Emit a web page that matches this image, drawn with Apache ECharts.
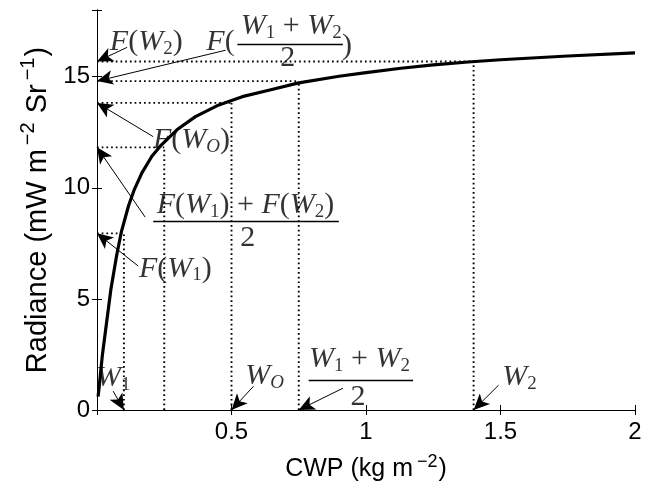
<!DOCTYPE html>
<html>
<head>
<meta charset="utf-8">
<script src="https://cdn.jsdelivr.net/npm/echarts@6/dist/echarts.min.js"></script>
<style>
  html, body { margin: 0; padding: 0; background: #fff; }
  #chart { width: 651px; height: 487px; }
</style>
</head>
<body>
<div id="chart"></div>
<script>
// radiance curve
const cwp = [0.004, 0.0075, 0.02, 0.036, 0.052, 0.073, 0.09, 0.117, 0.139, 0.167, 0.204, 0.235, 0.297, 0.366, 0.453, 0.54, 0.65, 0.75, 0.9, 1.0, 1.13, 1.25, 1.38, 1.5, 1.75, 2.0];
const radiance = [0.6, 0.98, 2.47, 3.97, 5.46, 6.95, 7.99, 9.18, 9.93, 10.67, 11.42, 11.87, 12.61, 13.2, 13.73, 14.1, 14.42, 14.72, 15.02, 15.18, 15.38, 15.53, 15.66, 15.76, 15.93, 16.07];

// W1, inverse of (F(W1)+F(W2))/2, WO, (W1+W2)/2, W2 and their F values
const wMarks = [0.1, 0.25, 0.5, 0.75, 1.4];
const fMarks = [7.95, 11.82, 13.82, 14.8, 15.68];

const yTicks = [0, 5, 10, 15];

// annotation arrows: [fromX, fromY, toX, toY]
const arrows = [
    [0.112, 16.32, 0.0, 15.68],
    [0.478, 16.19, 0.0, 14.8],
    [0.209, 12.30, 0.0, 13.82],
    [0.179, 8.68, 0.0, 11.82],
    [0.153, 6.48, 0.0, 7.95],
    [0.060, 0.85, 0.1, 0],
    [0.582, 1.07, 0.5, 0],
    [0.914, 0.98, 0.75, 0],
    [1.493, 1.12, 1.4, 0]
];

// fraction bars: [x1, x2, y]
const bars = [
    [0.522, 0.914, 16.46],
    [0.209, 0.899, 8.50],
    [0.787, 1.175, 1.34]
];

// text notes: [x, y, rich text]
const notes = [
    [0.183, 16.55, '{i|F}{r|(}{i|W}{s|2}{r|)}'],
    [0.459, 16.55, '{i|F}{r|(}'],
    [0.722, 17.26, '{i|W}{s|1}{r| + }{i|W}{s|2}'],
    [0.709, 15.85, '{r|2}'],
    [0.929, 16.37, '{r|)}'],
    [0.351, 12.13, '{i|F}{r|(}{i|W}{si|O}{r|)}'],
    [0.552, 9.21, '{i|F}{r|(}{i|W}{s|1}{r|) + }{i|F}{r|(}{i|W}{s|2}{r|)}'],
    [0.560, 7.74, '{r|2}'],
    [0.291, 6.35, '{i|F}{r|(}{i|W}{s|1}{r|)}'],
    [0.060, 1.43, '{i|W}{s|1}'],
    [0.623, 1.52, '{i|W}{si|O}'],
    [0.976, 2.29, '{i|W}{s|1}{r| + }{i|W}{s|2}'],
    [0.970, 0.58, '{r|2}'],
    [1.571, 1.48, '{i|W}{s|2}']
];

const serif = 'Liberation Serif';
const rich = {
    i: { fontFamily: serif, fontStyle: 'italic', fontSize: 30, lineHeight: 32, color: '#000' },
    r: { fontFamily: serif, fontSize: 30, lineHeight: 32, color: '#000' },
    s: { fontFamily: serif, fontSize: 19, lineHeight: 17, verticalAlign: 'bottom', color: '#000' },
    si: { fontFamily: serif, fontStyle: 'italic', fontSize: 19, lineHeight: 17, verticalAlign: 'bottom', color: '#000' }
};

const dotted = [];
wMarks.forEach((w, i) => {
    dotted.push([[0, fMarks[i]], [w, fMarks[i]]]);
    dotted.push([[w, 0], [w, fMarks[i]]]);
});

const guideSeries = dotted.map(seg => ({
    type: 'line',
    data: seg,
    symbol: 'none',
    silent: true,
    lineStyle: { color: '#000', width: 1.9, type: [1.7, 3.0] },
    z: 1
}));

const axisFont = { fontFamily: 'Liberation Sans', fontSize: 24, color: '#000' };

const chart = echarts.init(document.getElementById('chart'));
chart.setOption({
    animation: false,
    backgroundColor: '#fff',
    grid: { left: 97, right: 16, top: 10, bottom: 75, containLabel: false },
    xAxis: [
        {
            type: 'value', min: 0, max: 2, interval: 0.5,
            name: '{a|CWP (kg m}{p|−2}{a|)}',
            nameLocation: 'middle', nameGap: 43,
            nameTextStyle: {
                rich: {
                    a: { fontFamily: 'Liberation Sans', fontSize: 25, color: '#000', lineHeight: 28, padding: [5, 0, 0, 0] },
                    p: { fontFamily: 'Liberation Sans', fontSize: 18, color: '#000', lineHeight: 16, verticalAlign: 'top', padding: [0, 1, 0, 4] }
                }
            },
            axisLine: { lineStyle: { color: '#000', width: 1 } },
            axisTick: { inside: true, length: 5, lineStyle: { color: '#000' } },
            axisLabel: Object.assign({ margin: 10, formatter: v => (v === 0 ? '' : String(v)) }, axisFont),
            splitLine: { show: false }
        },
        {
            type: 'value', min: 0, max: 2, interval: 0.5, position: 'top',
            axisLine: { show: true, lineStyle: { color: '#000', width: 1 } },
            axisTick: { show: true, inside: true, length: 5, lineStyle: { color: '#000' } },
            axisLabel: { show: false },
            splitLine: { show: false }
        }
    ],
    yAxis: [
        {
            type: 'value', min: 0, max: 18, interval: 5,
            name: '{a|Radiance (mW m}{p|−2}{a| Sr}{p|−1}{a|)}',
            nameLocation: 'middle', nameGap: 44,
            nameTextStyle: {
                rich: {
                    a: { fontFamily: 'Liberation Sans', fontSize: 29, color: '#000', lineHeight: 32, padding: [6, 0, 0, 0] },
                    p: { fontFamily: 'Liberation Sans', fontSize: 20, color: '#000', lineHeight: 18, verticalAlign: 'top', padding: [0, 1, 0, 4] }
                }
            },
            axisLine: { lineStyle: { color: '#000', width: 1 } },
            axisTick: { inside: true, length: 5, lineStyle: { color: '#000' } },
            axisLabel: Object.assign({ margin: 7, formatter: v => (yTicks.indexOf(v) >= 0 ? String(v) : '') }, axisFont),
            splitLine: { show: false }
        },
        {
            type: 'value', min: 0, max: 18, interval: 5, position: 'right',
            axisLine: { show: true, lineStyle: { color: '#000', width: 1 } },
            axisTick: { show: true, inside: true, length: 5, lineStyle: { color: '#000' } },
            axisLabel: { show: false },
            splitLine: { show: false }
        }
    ],
    series: guideSeries.concat([
        {
            type: 'line',
            data: cwp.map((x, i) => [x, radiance[i]]),
            symbol: 'none',
            lineStyle: { color: '#000', width: 3.2, join: 'round' },
            z: 3,
            markLine: {
                silent: true,
                animation: false,
                symbol: ['none', 'arrow'],
                symbolSize: [11, 16],
                label: { show: false },
                lineStyle: { color: '#000', width: 1, type: 'solid' },
                emphasis: { disabled: true },
                data: arrows.map(a => [{ coord: [a[0], a[1]] }, { coord: [a[2], a[3]] }])
            }
        },
        {
            type: 'line',
            data: [],
            symbol: 'none',
            markLine: {
                silent: true,
                animation: false,
                symbol: ['none', 'none'],
                label: { show: false },
                lineStyle: { color: '#000', width: 1.3, type: 'solid' },
                emphasis: { disabled: true },
                data: bars.map(b => [{ coord: [b[0], b[2]] }, { coord: [b[1], b[2]] }])
            }
        },
        {
            type: 'scatter',
            symbolSize: 0,
            silent: true,
            z: 5,
            label: { show: true, position: 'inside', color: '#000', rich: rich },
            data: notes.map(n => ({ value: [n[0], n[1]], label: { formatter: n[2] } }))
        }
    ])
});
</script>
</body>
</html>
